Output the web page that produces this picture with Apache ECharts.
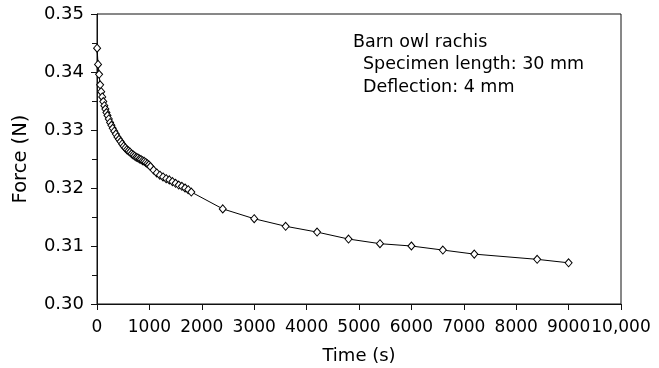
<!DOCTYPE html>
<html>
<head>
<meta charset="utf-8">
<script src="https://cdn.jsdelivr.net/npm/echarts@6/dist/echarts.min.js"></script>
<style>html,body{margin:0;padding:0;background:#fff}#c{width:659px;height:368px}</style>
</head>
<body>
<div id="c"></div>
<script>
var timeSec = [2, 20, 40, 60, 80, 100, 120, 140, 160, 180, 200, 225, 250, 275, 300, 330, 360, 390, 420, 450, 480, 510, 540, 570, 600, 630, 660, 690, 720, 750, 780, 810, 840, 870, 900, 930, 960, 990, 1020, 1080, 1140, 1200, 1260, 1320, 1380, 1440, 1500, 1560, 1620, 1680, 1740, 1800, 2400, 3000, 3600, 4200, 4800, 5400, 6000, 6600, 7200, 8400, 9000];
var forceN = [0.3441, 0.3413, 0.3396, 0.3378, 0.3366, 0.3357, 0.3349, 0.3342, 0.3336, 0.3330, 0.3325, 0.3319, 0.3313, 0.3308, 0.3303, 0.3298, 0.3293, 0.3288, 0.3284, 0.3280, 0.3276, 0.3272, 0.3269, 0.3266, 0.3264, 0.3262, 0.3259, 0.3257, 0.3255, 0.3253, 0.3252, 0.3250, 0.3249, 0.3247, 0.3246, 0.3244, 0.3242, 0.3240, 0.3237, 0.3231, 0.3226, 0.3222, 0.3219, 0.3216, 0.3214, 0.3211, 0.3208, 0.3205, 0.3203, 0.3200, 0.3197, 0.3193, 0.3164, 0.3147, 0.3134, 0.3124, 0.3112, 0.3104, 0.3100, 0.3093, 0.3086, 0.3077, 0.3071];
var annotationLines = ['Barn owl rachis', 'Specimen length: 30 mm', 'Deflection: 4 mm'];
var xTickLabels = {10000: '10,000'};

var chart = echarts.init(document.getElementById('c'), null, {renderer: 'canvas'});
var pts = timeSec.map(function (t, i) { return [t, forceN[i]]; });
var FONT = '"DejaVu Sans", Verdana, sans-serif';
var AX = '#111';
chart.setOption({
  animation: false,
  backgroundColor: '#fff',
  grid: {left: 97, right: 38, top: 14, bottom: 64, show: true, borderColor: AX, borderWidth: 1,
    backgroundColor: 'transparent', containLabel: false, outerBoundsMode: 'none'},
  xAxis: {
    type: 'value', min: 0, max: 10000, interval: 1000,
    name: 'Time (s)', nameLocation: 'middle', nameGap: 43,
    nameTextStyle: {fontFamily: FONT, fontSize: 18, color: '#000'},
    axisLine: {show: true, lineStyle: {color: AX, width: 1}},
    axisTick: {show: true, inside: false, length: 6, lineStyle: {color: AX}},
    axisLabel: {fontFamily: FONT, fontSize: 17, color: '#000', margin: 15,
      showMinLabel: true, showMaxLabel: true, hideOverlap: false,
      formatter: function (v) { return xTickLabels[v] || String(v); }},
    splitLine: {show: false}
  },
  yAxis: {
    type: 'value', min: 0.30, max: 0.35, interval: 0.01,
    name: 'Force (N)', nameLocation: 'middle', nameGap: 66, nameRotate: 90,
    nameTextStyle: {fontFamily: FONT, fontSize: 19.5, color: '#000'},
    axisLine: {show: true, lineStyle: {color: AX, width: 1}},
    axisTick: {show: true, inside: false, length: 6, lineStyle: {color: AX}},
    minorTick: {show: true, splitNumber: 2, length: 5, lineStyle: {color: AX}},
    axisLabel: {fontFamily: FONT, fontSize: 18, color: '#000', margin: 13,
      formatter: function (v) { return v.toFixed(2); }},
    splitLine: {show: false}
  },
  graphic: [{
    type: 'text', left: 353, top: 33,
    style: {text: annotationLines[0], font: '17.5px ' + FONT, fill: '#000'}
  }, {
    type: 'text', left: 363, top: 55,
    style: {text: annotationLines[1], font: '17.5px ' + FONT, fill: '#000'}
  }, {
    type: 'text', left: 363, top: 78,
    style: {text: annotationLines[2], font: '17.5px ' + FONT, fill: '#000'}
  }],
  series: [{
    type: 'line', data: pts,
    symbol: 'diamond', symbolSize: [7, 8], showAllSymbol: true,
    lineStyle: {color: '#000', width: 1},
    itemStyle: {color: '#fff', borderColor: '#000', borderWidth: 1},
    emphasis: {disabled: true}
  }]
});
</script>
</body>
</html>
